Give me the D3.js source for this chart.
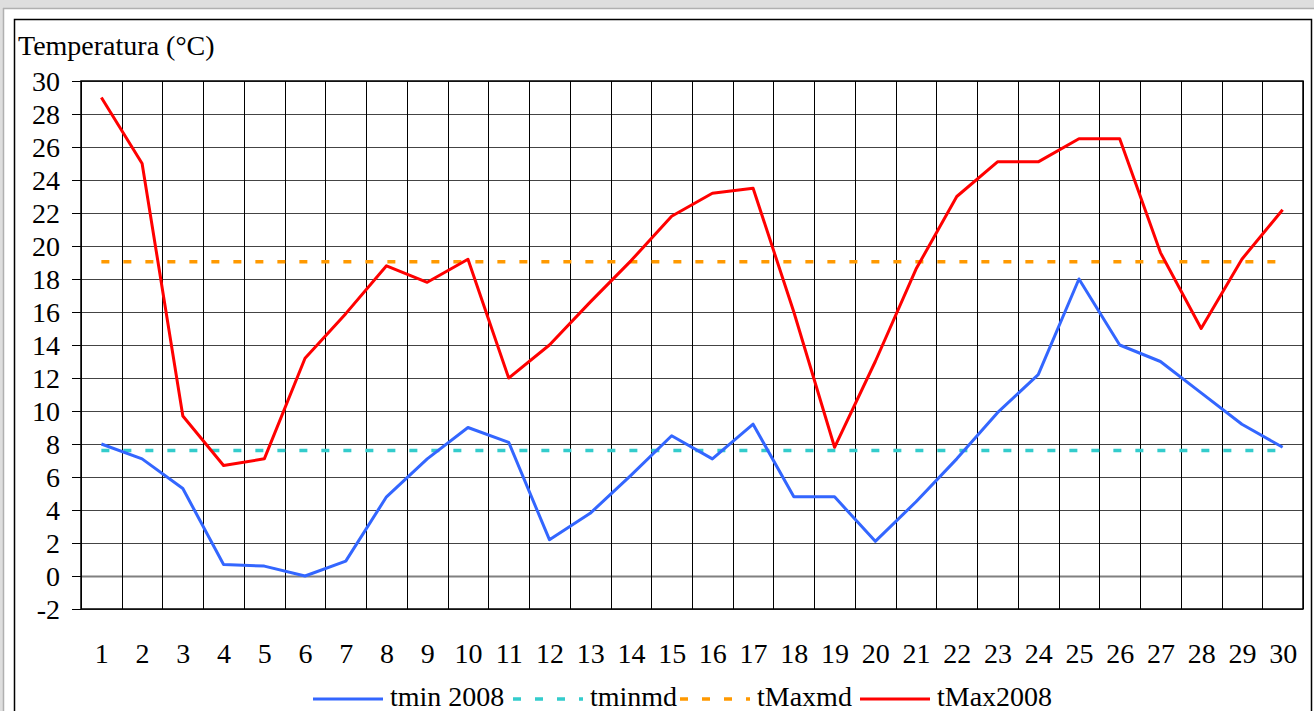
<!DOCTYPE html>
<html>
<head>
<meta charset="utf-8">
<script src="https://cdn.jsdelivr.net/npm/d3@7"></script>
<style>
  body { margin: 0; background: #fff; }
  svg text { font-family: "Liberation Serif", "Times New Roman", serif; fill: #000; }
</style>
</head>
<body>
<div id="chart"></div>
<script>
// Données
var days = d3.range(1, 31);
var tmin2008 = [8.0, 7.1, 5.3, 0.7, 0.6, 0.0, 0.9, 4.8, 7.1, 9.0,
                8.1, 2.2, 3.8, 6.1, 8.5, 7.1, 9.2, 4.8, 4.8, 2.1,
                4.5, 7.1, 9.9, 12.2, 18.0, 14.0, 13.0, 11.1, 9.2, 7.8];
var tMax2008 = [29.0, 25.0, 9.7, 6.7, 7.1, 13.2, 15.9, 18.8, 17.8, 19.2,
                12.0, 14.0, 16.6, 19.1, 21.8, 23.2, 23.5, 16.0, 7.8, 13.0,
                18.6, 23.0, 25.1, 25.1, 26.5, 26.5, 19.6, 15.0, 19.2, 22.2];
var tminmd = 7.6;
var tMaxmd = 19.05;
var yTicks = d3.range(-2, 31, 2);
var seriesNames = ["tmin 2008", "tminmd", "tMaxmd", "tMax2008"];

var width = 1314, height = 711;

var svg = d3.select("#chart").append("svg")
    .attr("width", width)
    .attr("height", height);

// cadre gris + cadre noir
svg.append("rect").attr("x", 0).attr("y", 0).attr("width", width).attr("height", 8).attr("fill", "#dedede");
svg.append("rect").attr("x", 0).attr("y", 0).attr("width", 3).attr("height", height).attr("fill", "#dedede");
svg.append("line").attr("x1", 3).attr("y1", 8.5).attr("x2", width).attr("y2", 8.5).attr("stroke", "#b0b0b0").attr("stroke-width", 1.5);
svg.append("line").attr("x1", 3.5).attr("y1", 8).attr("x2", 3.5).attr("y2", height).attr("stroke", "#b0b0b0").attr("stroke-width", 1.5);
svg.append("rect")
    .attr("x", 14.5).attr("y", 19.5)
    .attr("width", 1297).attr("height", 720)
    .attr("fill", "none").attr("stroke", "#000").attr("stroke-width", 1.5);

var x = d3.scaleLinear().domain([0.5, 30.5]).range([81, 1303]);
var y = d3.scaleLinear().domain([-2, 30]).range([609, 81]);

// grille horizontale
svg.append("g").selectAll("line")
    .data(yTicks)
    .enter().append("line")
    .attr("x1", x(0.5)).attr("x2", x(30.5))
    .attr("y1", function(d) { return Math.round(y(d)) + 0.5; })
    .attr("y2", function(d) { return Math.round(y(d)) + 0.5; })
    .attr("stroke", function(d) { return d === 0 ? "#808080" : "#444"; })
    .attr("stroke-width", function(d) { return d === 0 ? 2 : 1; });

// grille verticale
svg.append("g").selectAll("line")
    .data(d3.range(0, 31))
    .enter().append("line")
    .attr("x1", function(d) { return Math.round(x(d + 0.5)) + 0.5; })
    .attr("x2", function(d) { return Math.round(x(d + 0.5)) + 0.5; })
    .attr("y1", y(30)).attr("y2", y(-2))
    .attr("stroke", "#000").attr("stroke-width", 1);

// bord du graphique
svg.append("rect")
    .attr("x", x(0.5)).attr("y", y(30))
    .attr("width", x(30.5) - x(0.5)).attr("height", y(-2) - y(30))
    .attr("fill", "none").attr("stroke", "#000").attr("stroke-width", 1.5);

// axe Y
var yAxis = svg.append("g")
    .attr("transform", "translate(" + x(0.5) + ",0)")
    .call(d3.axisLeft(y).tickValues(yTicks).tickSize(9).tickPadding(12)
        .tickFormat(function(d) { return String(d); }));
yAxis.select(".domain").remove();
yAxis.selectAll("line").attr("stroke", "#000");
yAxis.selectAll("text").attr("font-size", 28).attr("font-family", "Liberation Serif").attr("dy", "0.34em");

// axe X
var xAxis = svg.append("g")
    .attr("transform", "translate(0," + y(-2) + ")")
    .call(d3.axisBottom(x).tickValues(days).tickSize(0).tickPadding(0)
        .tickFormat(function(d) { return String(d); }));
xAxis.select(".domain").remove();
xAxis.selectAll("text").attr("font-size", 28).attr("font-family", "Liberation Serif")
    .attr("y", 54).attr("dy", 0);

// titre de l'axe
svg.append("text").attr("x", 18).attr("y", 55).attr("font-size", 28).text("Temperatura (°C)");

var line = d3.line()
    .x(function(d, i) { return x(days[i]); })
    .y(function(d) { return y(d); });

// moyennes (pointillés)
svg.append("path")
    .datum(days.map(function() { return tminmd; }))
    .attr("d", line)
    .attr("fill", "none").attr("stroke", "#33CCCC").attr("stroke-width", 3.5)
    .attr("stroke-dasharray", "8,14");
svg.append("path")
    .datum(days.map(function() { return tMaxmd; }))
    .attr("d", line)
    .attr("fill", "none").attr("stroke", "#FF9900").attr("stroke-width", 3.5)
    .attr("stroke-dasharray", "8,14");

// courbes
svg.append("path")
    .datum(tmin2008)
    .attr("d", line)
    .attr("fill", "none").attr("stroke", "#3366FF").attr("stroke-width", 3)
    .attr("stroke-linejoin", "round");
svg.append("path")
    .datum(tMax2008)
    .attr("d", line)
    .attr("fill", "none").attr("stroke", "#FF0000").attr("stroke-width", 3)
    .attr("stroke-linejoin", "round");

// légende
var legend = [
    { name: seriesNames[0], color: "#3366FF", dash: null, x: 313 },
    { name: seriesNames[1], color: "#33CCCC", dash: "8,14", x: 513 },
    { name: seriesNames[2], color: "#FF9900", dash: "8,14", x: 680 },
    { name: seriesNames[3], color: "#FF0000", dash: null, x: 860 }
];
var lg = svg.append("g").selectAll("g")
    .data(legend)
    .enter().append("g");
lg.append("line")
    .attr("x1", function(d) { return d.x; })
    .attr("x2", function(d) { return d.x + 70; })
    .attr("y1", 699).attr("y2", 699)
    .attr("stroke", function(d) { return d.color; })
    .attr("stroke-width", function(d) { return d.dash ? 3.5 : 3; })
    .attr("stroke-dasharray", function(d) { return d.dash; });
lg.append("text")
    .attr("x", function(d) { return d.x + 77; })
    .attr("y", 706)
    .attr("font-size", 28)
    .text(function(d) { return d.name; });
</script>
</body>
</html>
